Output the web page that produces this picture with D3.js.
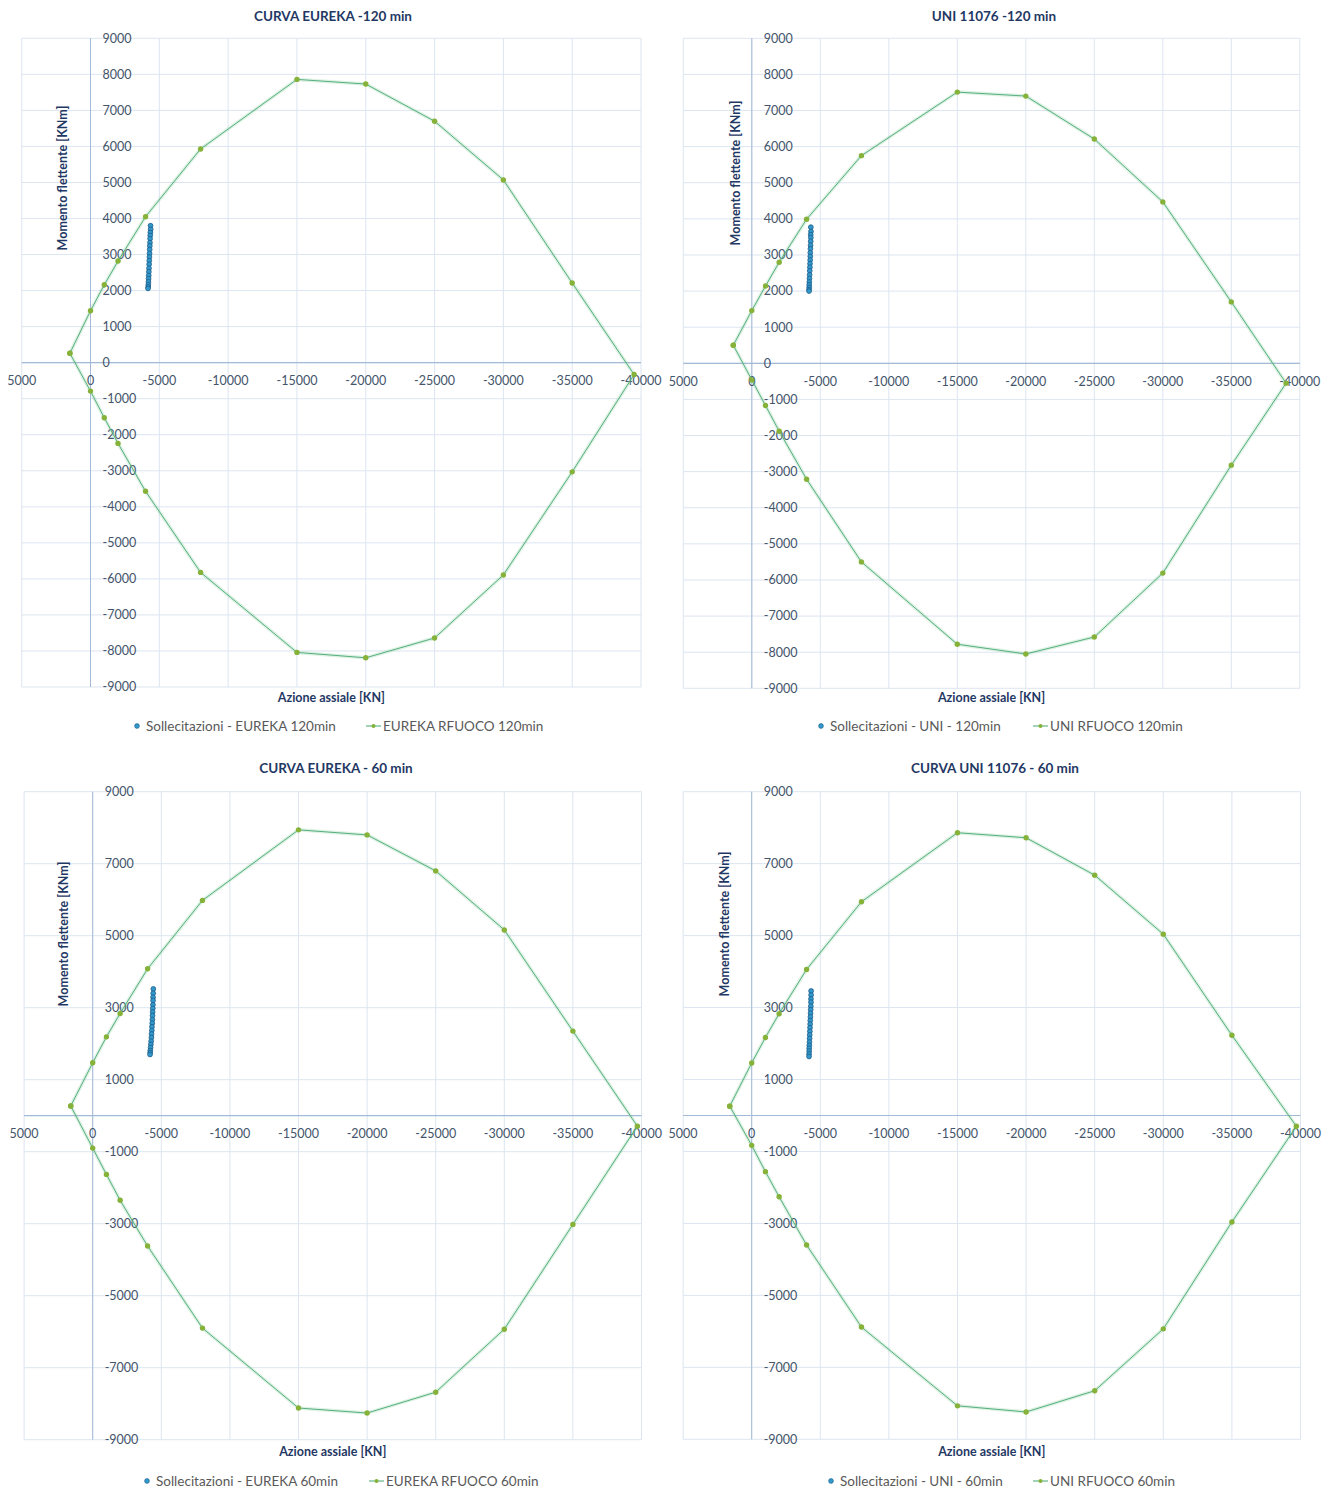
<!DOCTYPE html>
<html>
<head>
<meta charset="utf-8">
<script src="https://cdn.jsdelivr.net/npm/d3@7"></script>
<style>
  html, body { margin: 0; padding: 0; background: #ffffff; }
  svg { display: block; font-family: Lato, "Open Sans", sans-serif; }
</style>
</head>
<body>
<svg id="chart" width="1335" height="1490"></svg>
<script>
// Axial force N [KN] / bending moment M [KNm] pairs.

// Resistance domain, EUREKA curve, 120 min
const eureka120Domain = [
  [1500, 260], [0, 1440], [-1000, 2160], [-2000, 2820], [-4000, 4050], [-8000, 5930],
  [-15000, 7860], [-20000, 7730], [-25000, 6700], [-30000, 5070], [-35000, 2210], [-39500, -330],
  [-35000, -3030], [-30000, -5890], [-25000, -7640], [-20000, -8190], [-15000, -8040],
  [-8000, -5820], [-4000, -3570], [-2000, -2240], [-1000, -1530], [0, -790], [1500, 260]
];
// Acting stresses, EUREKA 120 min
const eureka120Stress = [
  [-4360, 3800], [-4370, 3700], [-4350, 3610], [-4340, 3530], [-4330, 3440], [-4320, 3330],
  [-4310, 3240], [-4300, 3140], [-4290, 3030], [-4280, 2930], [-4270, 2830], [-4260, 2730],
  [-4250, 2620], [-4240, 2520], [-4230, 2420], [-4220, 2330], [-4210, 2240], [-4200, 2160],
  [-4190, 2100], [-4180, 2060]
];

// Resistance domain, UNI 11076 curve, 120 min
const uni120Domain = [
  [1350, 500], [0, 1460], [-1000, 2140], [-2000, 2800], [-4000, 3990], [-8000, 5750],
  [-15000, 7510], [-20000, 7400], [-25000, 6210], [-30000, 4470], [-35000, 1700], [-39000, -550],
  [-35000, -2820], [-30000, -5810], [-25000, -7580], [-20000, -8050], [-15000, -7780],
  [-8000, -5500], [-4000, -3210], [-2000, -1880], [-1000, -1170], [0, -460], [1350, 500]
];
// Acting stresses, UNI 120 min
const uni120Stress = [
  [-4310, 3770], [-4320, 3650], [-4300, 3560], [-4310, 3480], [-4300, 3380], [-4290, 3270],
  [-4280, 3170], [-4270, 3060], [-4270, 2960], [-4260, 2860], [-4250, 2760], [-4240, 2660],
  [-4230, 2560], [-4220, 2450], [-4210, 2350], [-4200, 2250], [-4190, 2170], [-4190, 2100],
  [-4180, 2040], [-4180, 2000]
];

// Resistance domain, EUREKA curve, 60 min
const eureka60Domain = [
  [1600, 270], [0, 1470], [-1000, 2190], [-2000, 2840], [-4000, 4080], [-8000, 5980],
  [-15000, 7940], [-20000, 7800], [-25000, 6800], [-30000, 5160], [-35000, 2350], [-39700, -290],
  [-35000, -3020], [-30000, -5930], [-25000, -7680], [-20000, -8260], [-15000, -8120],
  [-8000, -5900], [-4000, -3620], [-2000, -2350], [-1000, -1630], [0, -900], [1600, 270]
];
// Acting stresses, EUREKA 60 min
const eureka60Stress = [
  [-4420, 3520], [-4410, 3400], [-4400, 3290], [-4400, 3200], [-4390, 3080], [-4380, 2980],
  [-4370, 2880], [-4360, 2780], [-4350, 2670], [-4340, 2570], [-4320, 2470], [-4310, 2370],
  [-4290, 2270], [-4280, 2170], [-4260, 2070], [-4240, 1980], [-4220, 1890], [-4200, 1810],
  [-4190, 1750], [-4180, 1700]
];

// Resistance domain, UNI 11076 curve, 60 min
const uni60Domain = [
  [1600, 260], [0, 1460], [-1000, 2170], [-2000, 2830], [-4000, 4060], [-8000, 5940],
  [-15000, 7860], [-20000, 7720], [-25000, 6680], [-30000, 5040], [-35000, 2230], [-39700, -300],
  [-35000, -2960], [-30000, -5930], [-25000, -7650], [-20000, -8240], [-15000, -8070],
  [-8000, -5880], [-4000, -3600], [-2000, -2260], [-1000, -1560], [0, -830], [1600, 260]
];
// Acting stresses, UNI 60 min
const uni60Stress = [
  [-4330, 3460], [-4330, 3350], [-4320, 3240], [-4320, 3150], [-4310, 3040], [-4300, 2940],
  [-4290, 2840], [-4280, 2740], [-4270, 2640], [-4260, 2540], [-4250, 2440], [-4240, 2340],
  [-4230, 2240], [-4220, 2140], [-4210, 2040], [-4200, 1950], [-4190, 1870], [-4190, 1790],
  [-4180, 1710], [-4180, 1640]
];

// Tick values
const xTicks = [5000, 0, -5000, -10000, -15000, -20000, -25000, -30000, -35000, -40000];
const yTicks120 = [9000, 8000, 7000, 6000, 5000, 4000, 3000, 2000, 1000, 0,
  -1000, -2000, -3000, -4000, -5000, -6000, -7000, -8000, -9000];
const yTicks60 = [9000, 7000, 5000, 3000, 1000, -1000, -3000, -5000, -7000, -9000];

// Texts
const titles = ["CURVA EUREKA -120 min", "UNI 11076  -120 min", "CURVA EUREKA - 60 min", "CURVA UNI 11076 - 60 min"];
const stressNames = ["Sollecitazioni - EUREKA 120min", "Sollecitazioni - UNI - 120min", "Sollecitazioni - EUREKA 60min", "Sollecitazioni - UNI - 60min"];
const domainNames = ["EUREKA RFUOCO 120min", "UNI RFUOCO 120min", "EUREKA RFUOCO 60min", "UNI RFUOCO 60min"];
const xTitle = "Azione assiale [KN]";
const yTitle = "Momento flettente [KNm]";

const svg = d3.select("#chart");

const COL = {
  title: "#1f3864",
  tick: "#44546a",
  legend: "#595959",
  grid: "#dce5f0",
  axis: "#a3bad6",
  line: "#55b080",
  glow: "rgba(120,200,140,0.25)",
  marker: "#86b23a",
  dot: "#3399cc",
  dotStroke: "#1a5a87"
};

const panels = [
  { left: 21.7, right: 641, top: 38.3, bottom: 687, title: [333, 16], yTitle: [63, 178], xTitleY: 698, legend: [137, 366, 726],
    domain: eureka120Domain, stress: eureka120Stress, yTicks: yTicks120 },
  { left: 683.3, right: 1299.8, top: 38.3, bottom: 688.3, title: [994, 16], yTitle: [736, 173], xTitleY: 698, legend: [821, 1033, 726],
    domain: uni120Domain, stress: uni120Stress, yTicks: yTicks120 },
  { left: 24.1, right: 641.5, top: 791.7, bottom: 1439.7, title: [336, 768], yTitle: [64, 934], xTitleY: 1452, legend: [147, 369, 1481],
    domain: eureka60Domain, stress: eureka60Stress, yTicks: yTicks60 },
  { left: 683.1, right: 1300.5, top: 791.7, bottom: 1439.3, title: [995, 768], yTitle: [725, 924], xTitleY: 1452, legend: [831, 1033, 1481],
    domain: uni60Domain, stress: uni60Stress, yTicks: yTicks60 }
];

panels.forEach((p, i) => {
  const x = d3.scaleLinear().domain([5000, -40000]).range([p.left, p.right]);
  const y = d3.scaleLinear().domain([9000, -9000]).range([p.top, p.bottom]);
  const g = svg.append("g");

  // grid
  g.append("g").selectAll("line").data(xTicks).join("line")
    .attr("x1", d => x(d)).attr("x2", d => x(d))
    .attr("y1", p.top).attr("y2", p.bottom)
    .attr("stroke", COL.grid).attr("stroke-width", 1);
  g.append("g").selectAll("line").data(p.yTicks).join("line")
    .attr("x1", p.left).attr("x2", p.right)
    .attr("y1", d => y(d)).attr("y2", d => y(d))
    .attr("stroke", COL.grid).attr("stroke-width", 1);

  // axes crossing at the origin
  g.append("line").attr("x1", x(0)).attr("x2", x(0)).attr("y1", p.top).attr("y2", p.bottom)
    .attr("stroke", COL.axis).attr("stroke-width", 1);
  g.append("line").attr("x1", p.left).attr("x2", p.right).attr("y1", y(0)).attr("y2", y(0))
    .attr("stroke", COL.axis).attr("stroke-width", 1.2);

  // tick labels
  g.append("g").selectAll("text").data(p.yTicks).join("text")
    .attr("x", x(0) + 12).attr("y", d => y(d)).attr("dy", "0.35em")
    .attr("fill", COL.tick).attr("font-size", 12.5)
    .text(d => d);
  g.append("g").selectAll("text").data(xTicks).join("text")
    .attr("x", d => x(d)).attr("y", y(0) + 18).attr("dy", "0.35em")
    .attr("text-anchor", "middle")
    .attr("fill", COL.tick).attr("font-size", 12.5)
    .text(d => d);

  // resistance domain
  const line = d3.line().x(d => x(d[0])).y(d => y(d[1]));
  g.append("path").datum(p.domain).attr("d", line)
    .attr("fill", "none").attr("stroke", COL.glow).attr("stroke-width", 3.5).attr("stroke-linejoin", "round");
  g.append("path").datum(p.domain).attr("d", line)
    .attr("fill", "none").attr("stroke", COL.line).attr("stroke-width", 1).attr("stroke-linejoin", "round");
  g.append("g").selectAll("circle").data(p.domain).join("circle")
    .attr("cx", d => x(d[0])).attr("cy", d => y(d[1])).attr("r", 2.7)
    .attr("fill", COL.marker);

  // acting stresses
  g.append("g").selectAll("circle").data(p.stress).join("circle")
    .attr("cx", d => x(d[0])).attr("cy", d => y(d[1])).attr("r", 2.4)
    .attr("fill", COL.dot).attr("stroke", COL.dotStroke).attr("stroke-width", 0.8);

  // titles
  svg.append("text").attr("x", p.title[0]).attr("y", p.title[1]).attr("dy", "0.35em")
    .attr("text-anchor", "middle").attr("font-weight", 700).attr("font-size", 13.5)
    .attr("fill", COL.title).text(titles[i]);
  svg.append("text")
    .attr("transform", `translate(${p.yTitle[0]},${p.yTitle[1]}) rotate(-90)`)
    .attr("dy", "0.35em").attr("text-anchor", "middle").attr("font-weight", 700).attr("font-size", 12.5)
    .attr("fill", COL.title).text(yTitle);
  svg.append("text").attr("x", (p.left + p.right) / 2).attr("y", p.xTitleY).attr("dy", "0.35em")
    .attr("text-anchor", "middle").attr("font-weight", 700).attr("font-size", 12.5)
    .attr("fill", COL.title).text(xTitle);

  // legend
  const [lx1, lx2, ly] = p.legend;
  svg.append("circle").attr("cx", lx1).attr("cy", ly).attr("r", 2.4)
    .attr("fill", COL.dot).attr("stroke", COL.dotStroke).attr("stroke-width", 0.6);
  svg.append("text").attr("x", lx1 + 9).attr("y", ly).attr("dy", "0.35em")
    .attr("font-size", 13.5).attr("fill", COL.legend).text(stressNames[i]);
  svg.append("line").attr("x1", lx2).attr("x2", lx2 + 15).attr("y1", ly).attr("y2", ly)
    .attr("stroke", COL.line).attr("stroke-width", 1.1);
  svg.append("circle").attr("cx", lx2 + 7.5).attr("cy", ly).attr("r", 2)
    .attr("fill", COL.marker);
  svg.append("text").attr("x", lx2 + 17).attr("y", ly).attr("dy", "0.35em")
    .attr("font-size", 13.5).attr("fill", COL.legend).text(domainNames[i]);
});
</script>
</body>
</html>
